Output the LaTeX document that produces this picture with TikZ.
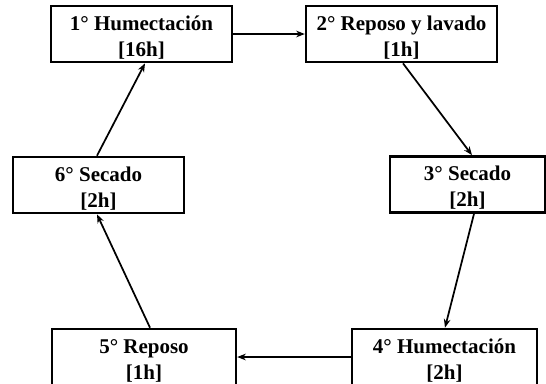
\documentclass[tikz,border=0pt]{standalone}
\usepackage{fontspec}
\setmainfont{Liberation Serif}
\usetikzlibrary{arrows.meta,calc}
\newcommand{\topline}[1]{\rule{0pt}{18.4pt}#1}
\newcommand{\botline}[1]{\rule[-4.5pt]{0pt}{4.5pt}#1}
\tikzset{
  stepbox/.style={draw, line width=1.8pt, fill=white, inner sep=0pt, align=center,
    font=\fontsize{15.75}{19.3}\selectfont\bfseries},
  flow/.style={line width=1.3pt, -{Stealth[length=6.5pt,width=5pt]}}
}
\begin{document}
\begin{tikzpicture}[x=0.75pt,y=-0.75pt]
\useasboundingbox (0,0) rectangle (546,383);
\clip (0,0) rectangle (546,383);
\fill[white] (0,0) rectangle (546,383);
\node[stepbox, minimum width=181*0.75pt, minimum height=56*0.75pt] (b1) at (141.5,34) {\topline{1° Humectación}\\\botline{[16h]}};
\node[stepbox, minimum width=191*0.75pt, minimum height=56*0.75pt] (b2) at (401.5,34) {\topline{2° Reposo y lavado}\\\botline{[1h]}};
\node[stepbox, minimum width=155*0.75pt, minimum height=55*0.75pt] (b3) at (467.5,184.5) {\topline{3° Secado}\\\botline{[2h]}};
\node[stepbox, minimum width=185*0.75pt, minimum height=56*0.75pt] (b4) at (444.5,357) {\topline{4° Humectación}\\\botline{[2h]}};
\node[stepbox, minimum width=184*0.75pt, minimum height=56*0.75pt] (b5) at (144,357) {\topline{5° Reposo}\\\botline{[1h]}};
\node[stepbox, minimum width=171*0.75pt, minimum height=54*0.75pt] (b6) at (98.5,185) {\topline{6° Secado}\\\botline{[2h]}};
\draw[flow] (b1.east) -- (b2.west);
\draw[flow] ($(b2.south)+(1.5,0)$) -- ($(b3.north)+(4.5,0)$);
\draw[flow] ($(b3.south)+(6.5,0)$) -- ($(b4.north)+(0.5,0)$);
\draw[flow] (b4.west) -- (b5.east);
\draw[flow] ($(b5.north)+(6,0)$) -- ($(b6.south)+(-1.5,0)$);
\draw[flow] ($(b6.north)+(-1.5,0)$) -- ($(b1.south)+(3.5,0)$);
\end{tikzpicture}
\end{document}
